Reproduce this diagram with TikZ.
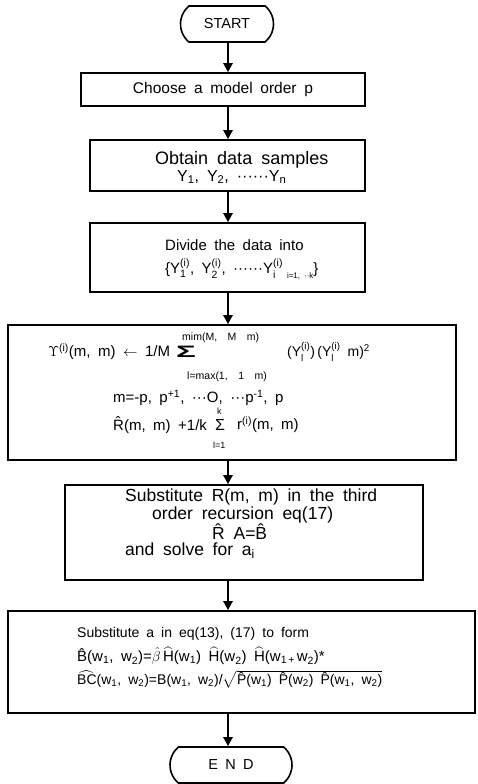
\documentclass[tikz,border=0pt]{standalone}
\usepackage{fontspec}
\usepackage{amsmath}
\setmainfont{Liberation Sans}[WordSpace=1.8]
\usetikzlibrary{arrows.meta,shapes.misc}
\newcommand{\Ysi}[1]{$\text{Y}^{\text{(i)}}_{\text{#1}}$}
\tikzset{
  boxnode/.style={draw, line width=1.6pt, inner sep=0pt},
  termnode/.style={draw, line width=1.6pt, rounded rectangle, rounded rectangle arc length=100, inner sep=0pt},
  arrowline/.style={line width=2.4pt, -{Triangle[length=9pt,width=9pt]}},
  lbl/.style={inner sep=0pt, anchor=west, font=\fontsize{#1}{#1}\selectfont},
}
\begin{document}
\begin{tikzpicture}[x=1pt,y=-1pt]
\useasboundingbox (0,0) rectangle (477,784);
% boxes of the chart
\node[termnode, minimum width=93pt, minimum height=36pt, font=\fontsize{14.5}{14.5}\selectfont] (start) at (227,24) {START};
\node[boxnode, minimum width=284pt, minimum height=33pt, font=\fontsize{15.5}{15.5}\selectfont] (choose) at (223,89.5) {Choose a model order p};
\node[boxnode, minimum width=275pt, minimum height=51pt] (obtain) at (227.5,165.5) {};
\node[boxnode, minimum width=275pt, minimum height=69pt] (divide) at (227.5,257.5) {};
\node[boxnode, minimum width=448pt, minimum height=135pt] (corr) at (232,392.5) {};
\node[boxnode, minimum width=358pt, minimum height=95pt] (solve) at (244,532.5) {};
\node[boxnode, minimum width=467pt, minimum height=102pt] (bic) at (241.5,662) {};
\node[termnode, minimum width=122pt, minimum height=36pt, font=\fontsize{14.5}{14.5}\selectfont] (finish) at (231,765) {E N D};

% connectors
\coordinate (spine) at (228,0);
\foreach \a/\b in {start/choose, choose/obtain, obtain/divide, divide/corr, corr/solve, solve/bic, bic/finish}
  \draw[arrowline] (\a.south -| spine) -- (\b.north -| spine);

% text of the boxes
\node[lbl=18] (obt1) at (155,160) {Obtain data samples};
\node[lbl=16] (obt2) at (177,177) {Y\textsubscript{1}, Y\textsubscript{2}, ······Y\textsubscript{n}};
\node[lbl=15] (div1) at (165,245) {Divide the data into};
\node[lbl=15] (div2) at (165,269) {\{\Ysi{1}, \Ysi{2}, ······\Ysi{i}\raisebox{-5pt}{\footnotesize\ i=1, ··k}\}};

\node[lbl=15] (rr1) at (48,352) {$\Upsilon^{\text{(i)}}$(m, m) $\leftarrow$ 1/M};
\node[inner sep=0pt] (sumA) at (186,352) {\fontsize{15}{15}\selectfont\scalebox{2.2}[1.1]{\bfseries Σ}};
\node[lbl=10.5] (upA) at (182,338) {mim(M, \ M \ m)};
\node[lbl=10.5] (loA) at (187,377) {l=max(1, \ 1 \ m)};
\node[lbl=14] (rr2) at (287,352) {(\Ysi{l})\,(\Ysi{l} m)\textsuperscript{2}};
\node[lbl=15] (mm) at (113,398) {m=-p, p\textsuperscript{+1}, ···O, ···p\textsuperscript{-1}, p};
\node[lbl=15] (rh1) at (113,425) {\^R(m, m) +1/k};
\node[inner sep=0pt] (sumB) at (220,425) {\fontsize{16}{16}\selectfont Σ};
\node[lbl=9] (upB) at (217,411) {k};
\node[lbl=9] (loB) at (213,445) {l=1};
\node[lbl=15] (rh2) at (237,425) {r\textsuperscript{(i)}(m, m)};

\node[lbl=17.5] (sub1) at (125,497) {Substitute R(m, m) in the third};
\node[lbl=17.5] (sub2) at (152,515) {order recursion eq(17)};
\node[lbl=17.5] (sub3) at (212,532) {\^R A=\^B};
\node[lbl=17.5] (sub4) at (125,551) {and solve for a\textsubscript{i}};

\node[lbl=14] (bic1) at (77,634) {Substitute a in eq(13), (17) to form};
\node[lbl=15] (bic2) at (77,656) {\^B(w\textsubscript{1}, w\textsubscript{2})=$\hat\beta\,\widehat{\text{H}}$(w\textsubscript{1}) $\widehat{\text{H}}$(w\textsubscript{2}) $\widehat{\text{H}}$(w\textsubscript{1\,+\,}w\textsubscript{2})*};
\node[lbl=14] (bic3) at (77,679) {$\widehat{\text{BC}}$(w\textsubscript{1}, w\textsubscript{2})=B(w\textsubscript{1}, w\textsubscript{2})/$\sqrt{\text{\^P(w\textsubscript{1}) \^P(w\textsubscript{2}) \^P(w\textsubscript{1}, w\textsubscript{2})}}$};
\end{tikzpicture}
\end{document}
